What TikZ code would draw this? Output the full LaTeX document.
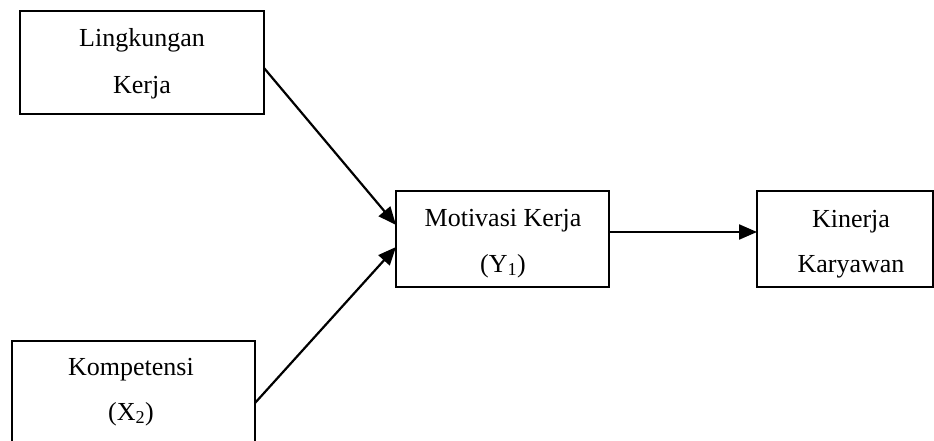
\documentclass[tikz,border=0pt]{standalone}
\usepackage{fontspec}
\setmainfont{Liberation Serif}
\usetikzlibrary{arrows.meta}
\begin{document}
\begin{tikzpicture}[x=1pt,y=-1pt,
  box/.style={draw,line width=2.2pt,inner sep=0pt,outer sep=0pt,rectangle},
  txt/.style={anchor=base,inner sep=0pt,font=\fontsize{26}{30}\selectfont},
  arr/.style={line width=2.2pt,-{Triangle[length=18pt,width=15pt]}}]
\useasboundingbox (0,0) rectangle (934,441);
\clip (0,0) rectangle (934,441);
\node[box,minimum width=244pt,minimum height=103pt] (lk) at (142,62.5) {};
\node[box,minimum width=243pt,minimum height=124pt] (kp) at (133.5,403) {};
\node[box,minimum width=213pt,minimum height=96pt] (mk) at (502.5,239) {};
\node[box,minimum width=176pt,minimum height=96pt] (kk) at (845,239) {};
\node[txt] (lk1) at (142,47) {Lingkungan};
\node[txt] (lk2) at (142,94) {Kerja};
\node[txt] (kp1) at (131,375) {Kompetensi};
\node[txt] (kp2) at (131,420) {(X\textsubscript{2})};
\node[txt] (mk1) at (503,226) {Motivasi Kerja};
\node[txt] (mk2) at (503,272) {(Y\textsubscript{1})};
\node[txt] (kk1) at (851,227) {Kinerja};
\node[txt] (kk2) at (851,272) {Karyawan};
\draw[arr] ([yshift=-5.5pt]lk.east) -- ([yshift=14pt]mk.west);
\draw[arr] (kp.east) -- ([yshift=-8pt]mk.west);
\draw[arr] ([yshift=7pt]mk.east) -- ([yshift=7pt]kk.west);
\end{tikzpicture}
\end{document}
